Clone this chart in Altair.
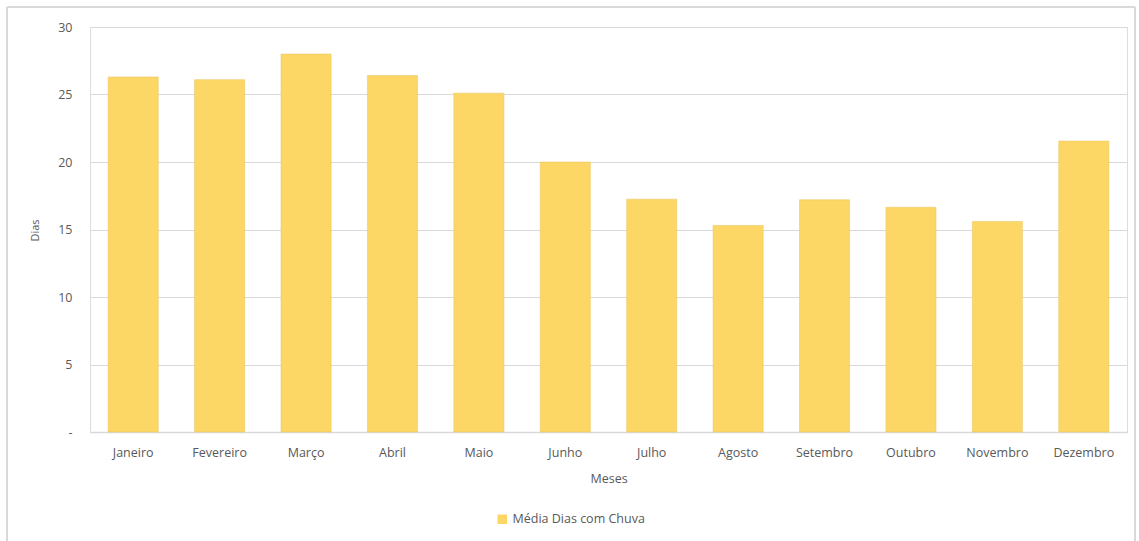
import altair as alt
import pandas as pd

meses = ["Janeiro", "Fevereiro", "Março", "Abril", "Maio", "Junho", "Julho",
         "Agosto", "Setembro", "Outubro", "Novembro", "Dezembro"]
dias = [26.3, 26.1, 28.0, 26.4, 25.1, 20.0, 17.25, 15.3, 17.2, 16.65, 15.6, 21.55]
serie = "Média Dias com Chuva"

df = pd.DataFrame({"Meses": meses, "Dias": dias, "Serie": [serie] * len(meses)})

FONT = "Open Sans"
TXT = "#595959"

bars = alt.Chart(df).mark_bar(color="#FDD766", stroke="#E6C25C", strokeWidth=0.5).encode(
    x=alt.X("Meses:N", sort=meses, title="Meses",
            scale=alt.Scale(paddingInner=0.42, paddingOuter=0.21),
            axis=alt.Axis(labelAngle=0, labelFont=FONT, labelFontSize=12.5, labelColor=TXT,
                          labelPadding=14, ticks=False, domain=True, domainColor="#D9D9D9",
                          domainWidth=1.5, titleFont=FONT, titleFontSize=12.5,
                          titleFontWeight="normal", titleColor=TXT, titlePadding=14)),
    y=alt.Y("Dias:Q", title="Dias",
            scale=alt.Scale(domain=[0, 30]),
            axis=alt.Axis(values=[0, 5, 10, 15, 20, 25, 30],
                          labelExpr="datum.value == 0 ? '-' : datum.label",
                          labelFont=FONT, labelFontSize=12.5, labelColor=TXT, labelPadding=18,
                          ticks=False, domain=False, grid=True, gridColor="#D9D9D9",
                          gridWidth=1.2, titleFont=FONT, titleFontSize=11,
                          titleFontWeight="normal", titleColor=TXT, titleX=-50, titleY=203)),
    fill=alt.Fill("Serie:N", scale=alt.Scale(range=["#FDD766"]),
                  legend=alt.Legend(title=None, orient="none", legendX=406, legendY=486,
                                    symbolType="square", symbolSize=90, symbolStrokeWidth=0,
                                    labelFont=FONT, labelFontSize=12.5, labelColor=TXT,
                                    labelOffset=4)),
)

border = alt.Chart(df).mark_rect(fill=None, stroke="#D9D9D9", strokeWidth=1).encode(
    x=alt.value(-83), x2=alt.value(1045), y=alt.value(-20), y2=alt.value(520)
)

chart = alt.layer(border, bars).properties(
    width=1037, height=405,
    autosize=alt.AutoSizeParams(type="none"),
    padding={"left": 90, "top": 27, "right": 12, "bottom": 109},
).configure_view(stroke=None).configure(background="white")

chart.save("out.html", embed_options={"renderer": "svg", "actions": False})
